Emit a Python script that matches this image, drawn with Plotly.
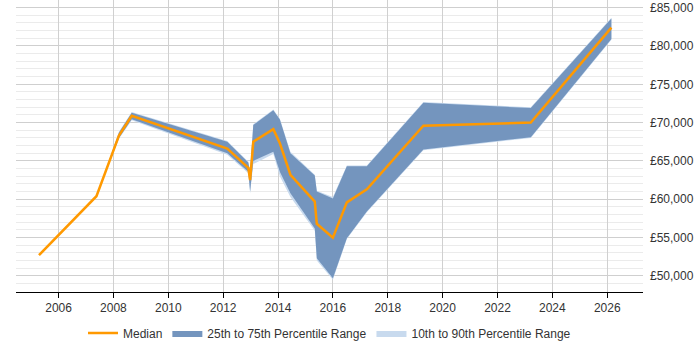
import plotly.graph_objects as go

dates = ["2005-04-15", "2007-05-20", "2008-03-15", "2008-09-01", "2012-02-25",
         "2012-12-01", "2012-12-25", "2013-02-05", "2013-10-30", "2014-01-25",
         "2014-06-15", "2015-05-05", "2015-06-01", "2016-01-01", "2016-07-05",
         "2017-03-28", "2019-04-20", "2023-03-20", "2026-02-25"]
median = [52700, 60400, 68300, 70900, 66600, 64100, 62500, 67500, 69150, 67300,
          63200, 59700, 56800, 55000, 59600, 61300, 69600, 70000, 82400]
p25 = [52700, 60400, 68000, 70450, 66000, 63600, 61000, 65000, 66200, 63600,
       60800, 56200, 52300, 49700, 54900, 58400, 66500, 68100, 80900]
p75 = [52700, 60400, 68700, 71300, 67500, 64800, 63600, 69700, 71600, 70400,
       66000, 63100, 61000, 60100, 64300, 64300, 72600, 71900, 83600]
p10 = [52700, 60400, 67900, 70300, 65800, 63400, 60800, 64600, 65900, 63000,
       60300, 55900, 52000, 49500, 54800, 58300, 66400, 68000, 80800]
p90 = [52700, 60400, 68800, 71400, 67600, 64900, 63700, 69800, 71700, 70500,
       66200, 63200, 61100, 60300, 64400, 64400, 72700, 72000, 83700]

y_ticks = [50000, 55000, 60000, 65000, 70000, 75000, 80000, 85000]
y_labels = ["£{:,}".format(v) for v in y_ticks]

fig = go.Figure()

# 10th-90th band
fig.add_trace(go.Scatter(x=dates, y=p90, mode="lines", line=dict(width=0, color="#c8daee"),
                         showlegend=False, hoverinfo="skip"))
fig.add_trace(go.Scatter(x=dates, y=p10, mode="lines", line=dict(width=0, color="#c8daee"),
                         fill="tonexty", fillcolor="#c8daee",
                         name="10th to 90th Percentile Range", legendrank=3))
# 25th-75th band
fig.add_trace(go.Scatter(x=dates, y=p75, mode="lines", line=dict(width=0, color="#7495be"),
                         showlegend=False, hoverinfo="skip"))
fig.add_trace(go.Scatter(x=dates, y=p25, mode="lines", line=dict(width=0, color="#7495be"),
                         fill="tonexty", fillcolor="#7495be",
                         name="25th to 75th Percentile Range", legendrank=2))
# Median
fig.add_trace(go.Scatter(x=dates, y=median, mode="lines",
                         line=dict(width=2.5, color="#ff9900"),
                         name="Median", legendrank=1))

fig.update_layout(
    width=700, height=350,
    margin=dict(l=16, r=57, t=0, b=58),
    paper_bgcolor="white", plot_bgcolor="white",
    font=dict(family="Liberation Sans, Arial, sans-serif", size=12, color="#333333"),
    legend=dict(orientation="h", x=0.5, xanchor="center", y=-0.14, yanchor="middle",
                font=dict(size=12, color="#333333"), traceorder="normal",
                itemwidth=30),
)

fig.update_xaxes(
    type="date",
    range=["2004-06-13", "2027-04-22"],
    tick0="2006-01-01", dtick="M24", tickformat="%Y",
    showgrid=True, gridcolor="#d0d0d0", gridwidth=1,
    showline=True, linecolor="#000000", linewidth=1,
    ticks="outside", ticklen=5, tickcolor="#000000",
    zeroline=False,
)

fig.update_yaxes(
    side="right",
    range=[47900, 86000],
    tickvals=y_ticks, ticktext=y_labels,
    showgrid=True, gridcolor="#cfcfcf", gridwidth=1,
    minor=dict(dtick=1000, tick0=0, showgrid=True, gridcolor="#ebebeb", gridwidth=1),
    showline=False, zeroline=False, ticks="",
    ticklabelstandoff=6,
)

fig.write_html("out.html")
